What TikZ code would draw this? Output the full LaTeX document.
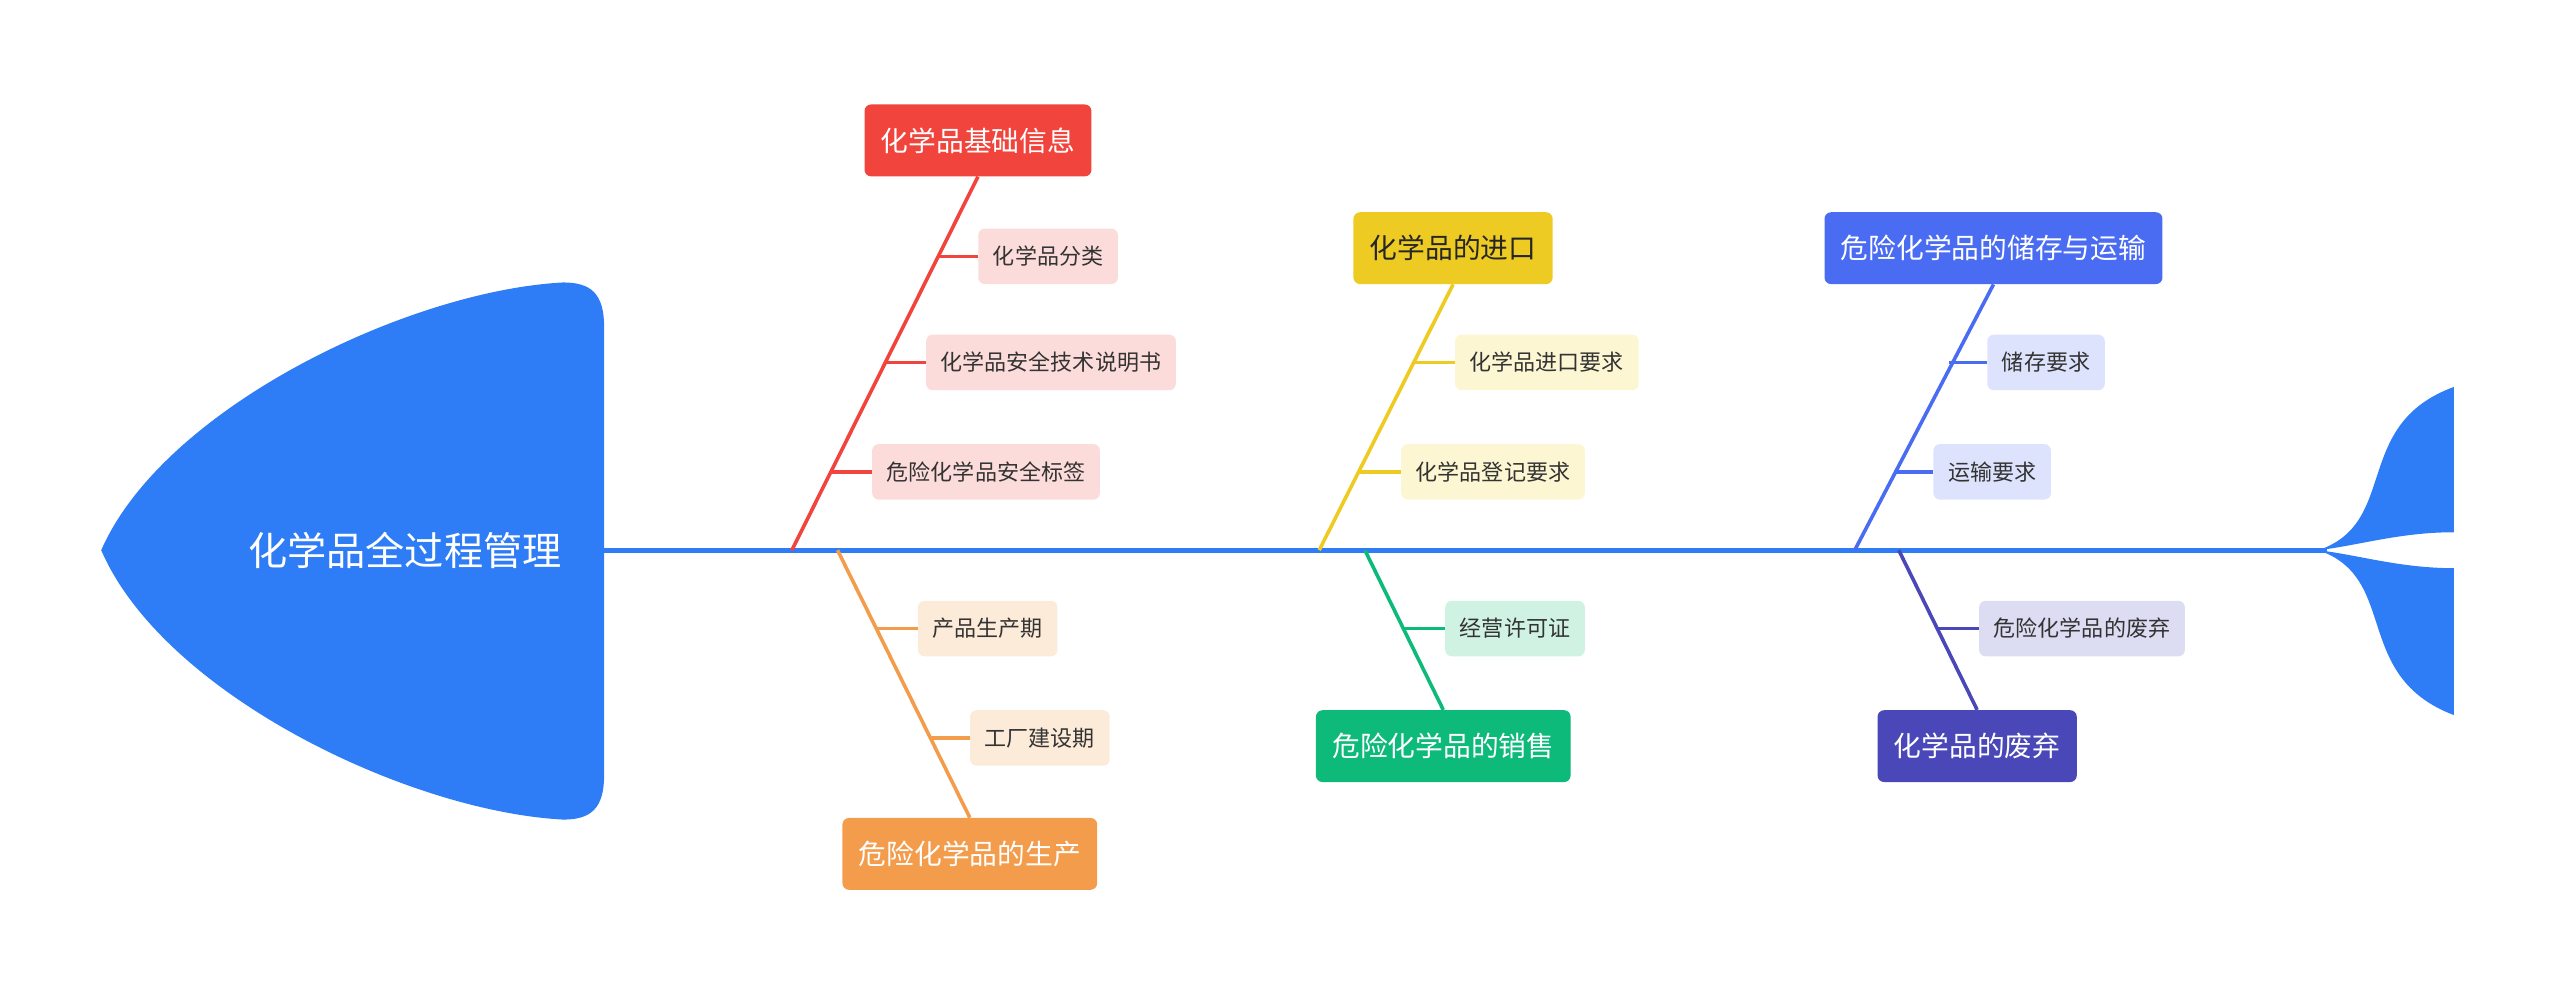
\documentclass[tikz,border=0pt]{standalone}
\usepackage{fontspec}
\setmainfont{Noto Sans CJK SC}
\begin{document}
\begin{tikzpicture}[x=1pt,y=-1pt,
 main/.style={rounded corners=4pt,minimum height=44pt,inner xsep=10pt,font=\fontsize{17}{17}\selectfont,text=white},
 sub/.style={rounded corners=4pt,minimum height=34pt,inner xsep=9pt,font=\fontsize{13.5}{14}\selectfont,text=black!80},
 br/.style={line width=2.2pt}]
\definecolor{cb}{HTML}{2E7CF6}
\definecolor{cr}{HTML}{F0443C}\definecolor{lr}{HTML}{FCDCDA}
\definecolor{co}{HTML}{F39C4B}\definecolor{lo}{HTML}{FDEBD9}
\definecolor{cy}{HTML}{EECB22}\definecolor{ly}{HTML}{FCF6D2}
\definecolor{cg}{HTML}{0DBA7A}\definecolor{lg}{HTML}{CFF2E3}
\definecolor{cu}{HTML}{4A6CF2}\definecolor{lu}{HTML}{DDE3FD}
\definecolor{ci}{HTML}{4A48B8}\definecolor{li}{HTML}{DCDCF2}
\useasboundingbox (0,0) rectangle (1568,609.4);
% head
\fill[cb] (62,337) .. controls (100,250) and (250,178) .. (345,173) .. controls (362,173) and (370,180) .. (370,200) -- (370,475) .. controls (370,495) and (362,502) .. (345,502) .. controls (250,497) and (100,425) .. (62,337) -- cycle;
\node[text=white,font=\fontsize{24}{24}\selectfont] (head) at (248,337) {化学品全过程管理};
% tail
\fill[cb] (1420,337) .. controls (1470,320) and (1440,260) .. (1503,237) -- (1503,326) .. controls (1470,326) and (1445,334) .. (1420,337) -- cycle;
\fill[cb] (1420,337) .. controls (1470,354) and (1440,414) .. (1503,438) -- (1503,348) .. controls (1470,348) and (1445,340) .. (1420,337) -- cycle;
\coordinate (s0) at (370,337); \coordinate (s1) at (1425,337);
\draw[cb,line width=3pt] (s0) -- (s1);
% branch 1
\node[main,fill=cr] (m1) at (599,86) {化学品基础信息};
\coordinate (r1) at (485,337);
\draw[br,cr] (r1) -- (m1.south);
\node[sub,fill=lr,anchor=west] (a1) at (599,157) {化学品分类};
\node[sub,fill=lr,anchor=west] (a2) at (567,222) {化学品安全技术说明书};
\node[sub,fill=lr,anchor=west] (a3) at (534,289) {危险化学品安全标签};
\draw[br,cr] (575,157) -- (a1.west); \draw[br,cr] (543,222) -- (a2.west); \draw[br,cr] (509,289) -- (a3.west);
% branch 2
\node[main,fill=co] (m2) at (594,523) {危险化学品的生产};
\coordinate (r2) at (513,337);
\draw[br,co] (r2) -- (m2.north);
\node[sub,fill=lo,anchor=west] (b1) at (562,385) {产品生产期};
\node[sub,fill=lo,anchor=west] (b2) at (594,452) {工厂建设期};
\draw[br,co] (537,385) -- (b1.west); \draw[br,co] (570,452) -- (b2.west);
% branch 3
\node[main,fill=cy,text=black!85] (m3) at (890,152) {化学品的进口};
\coordinate (r3) at (808,337);
\draw[br,cy] (r3) -- (m3.south);
\node[sub,fill=ly,anchor=west] (c1) at (891,222) {化学品进口要求};
\node[sub,fill=ly,anchor=west] (c2) at (858,289) {化学品登记要求};
\draw[br,cy] (866,222) -- (c1.west); \draw[br,cy] (832,289) -- (c2.west);
% branch 4
\node[main,fill=cg] (m4) at (884,457) {危险化学品的销售};
\coordinate (r4) at (836,337);
\draw[br,cg] (r4) -- (m4.north);
\node[sub,fill=lg,anchor=west] (d1) at (885,385) {经营许可证};
\draw[br,cg] (859.5,385) -- (d1.west);
% branch 5
\node[main,fill=cu] (m5) at (1221,152) {危险化学品的储存与运输};
\coordinate (r5) at (1136,337);
\draw[br,cu] (r5) -- (m5.south);
\node[sub,fill=lu,anchor=west] (e1) at (1217,222) {储存要求};
\node[sub,fill=lu,anchor=west] (e2) at (1184,289) {运输要求};
\draw[br,cu] (1194,222) -- (e1.west); \draw[br,cu] (1160,289) -- (e2.west);
% branch 6
\node[main,fill=ci] (m6) at (1211,457) {化学品的废弃};
\coordinate (r6) at (1163,337);
\draw[br,ci] (r6) -- (m6.north);
\node[sub,fill=li,anchor=west] (f1) at (1212,385) {危险化学品的废弃};
\draw[br,ci] (1186,385) -- (f1.west);
\end{tikzpicture}
\end{document}
